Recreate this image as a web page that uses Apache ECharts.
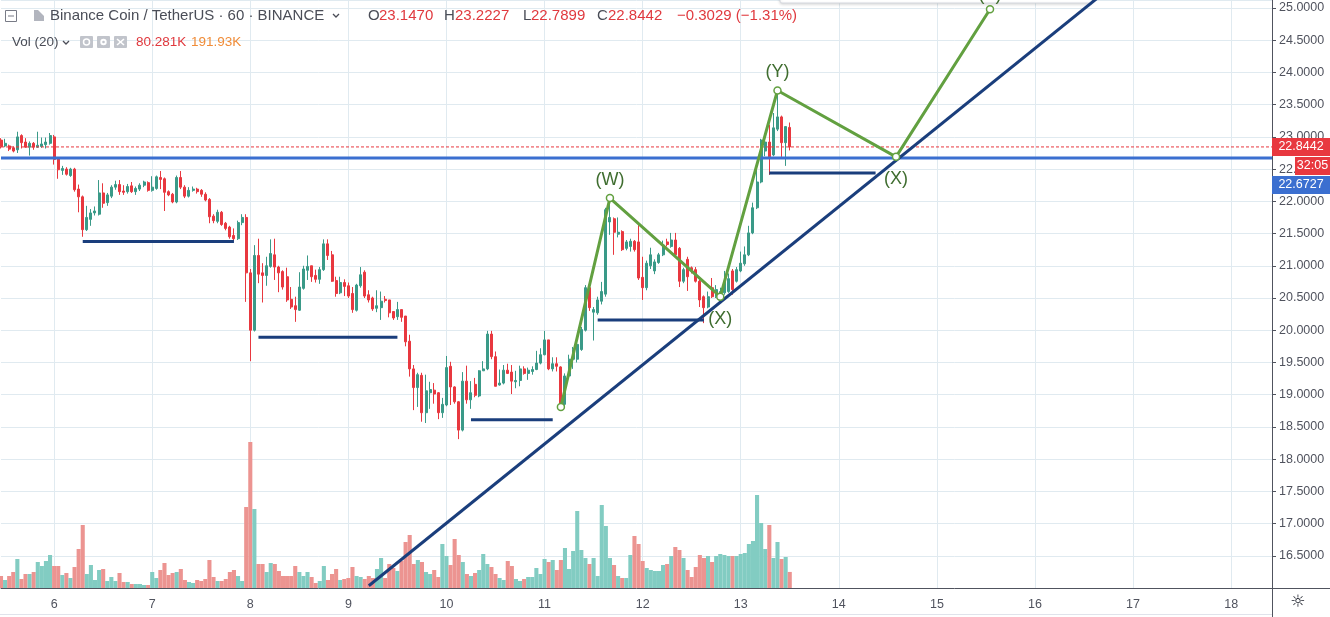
<!DOCTYPE html>
<html>
<head>
<meta charset="utf-8">
<script src="https://cdn.jsdelivr.net/npm/echarts@6/dist/echarts.min.js"></script>
<style>
html, body { margin: 0; padding: 0; background: #fff; }
#chart { width: 1330px; height: 617px; }
</style>
</head>
<body>
<div id="chart"></div>
<script>
var FONT = '"Liberation Sans", Arial, sans-serif'

// hourly slots, day 6 00:00 is slot 13
var dayLabels = ['6', '7', '8', '9', '10', '11', '12', '13', '14', '15', '16', '17', '18']
var firstMidnight = 13
var slotCount = 312

// [open, close, low, high]
var candles = [
    [22.95, 22.85, 22.82, 22.98], [22.86, 22.90, 22.84, 22.97], [22.86, 22.81, 22.78, 22.88], [22.83, 22.78, 22.76, 22.85], [22.80, 23.00, 22.75, 23.08], [23.02, 22.91, 22.82, 23.04],
    [22.92, 22.84, 22.83, 22.98], [22.84, 22.90, 22.71, 22.93], [22.90, 22.84, 22.80, 22.92], [22.84, 22.87, 22.83, 23.08], [22.85, 22.89, 22.83, 22.99], [22.88, 22.92, 22.82, 22.99],
    [22.90, 23.02, 22.88, 23.06], [23.00, 22.65, 22.57, 23.03], [22.66, 22.49, 22.35, 22.67], [22.48, 22.51, 22.41, 22.55], [22.50, 22.42, 22.40, 22.53], [22.40, 22.50, 22.38, 22.52],
    [22.50, 22.18, 22.15, 22.52], [22.19, 22.07, 21.83, 22.26], [22.07, 21.56, 21.45, 22.09], [21.56, 21.75, 21.54, 21.93], [21.72, 21.82, 21.62, 21.88], [21.82, 21.85, 21.78, 21.92],
    [21.80, 22.13, 21.78, 22.33], [22.13, 21.97, 21.90, 22.28], [21.98, 22.10, 21.93, 22.13], [22.08, 22.22, 22.05, 22.25], [22.22, 22.26, 22.18, 22.32], [22.26, 22.15, 22.10, 22.33],
    [22.16, 22.14, 22.10, 22.25], [22.15, 22.23, 22.12, 22.27], [22.24, 22.15, 22.13, 22.30], [22.15, 22.20, 22.10, 22.23], [22.19, 22.25, 22.16, 22.28], [22.25, 22.30, 22.22, 22.32],
    [22.29, 22.17, 22.15, 22.31], [22.17, 22.22, 22.15, 22.39], [22.20, 22.38, 22.18, 22.40], [22.37, 22.34, 22.19, 22.47], [22.35, 22.14, 21.85, 22.37], [22.15, 22.10, 22.08, 22.17],
    [22.11, 21.99, 21.97, 22.13], [21.99, 22.37, 21.97, 22.40], [22.37, 22.22, 22.19, 22.47], [22.22, 22.08, 22.05, 22.25], [22.08, 22.17, 22.06, 22.22], [22.17, 22.19, 22.15, 22.23],
    [22.19, 22.15, 22.12, 22.21], [22.17, 22.11, 22.07, 22.19], [22.11, 22.02, 22.00, 22.14], [22.03, 21.76, 21.66, 22.05], [21.77, 21.70, 21.66, 21.80], [21.69, 21.83, 21.66, 21.87],
    [21.83, 21.64, 21.62, 21.85], [21.66, 21.58, 21.55, 21.68], [21.60, 21.45, 21.42, 21.62], [21.47, 21.42, 21.38, 21.58], [21.42, 21.67, 21.40, 21.70], [21.67, 21.75, 21.63, 21.80],
    [21.75, 20.89, 20.44, 21.80], [20.89, 20.00, 19.52, 20.95], [20.00, 21.16, 19.98, 21.32], [21.16, 20.87, 20.73, 21.42], [20.89, 20.85, 20.43, 21.04], [20.85, 21.00, 20.69, 21.14],
    [20.99, 21.19, 20.97, 21.41], [21.17, 20.98, 20.78, 21.42], [20.98, 20.89, 20.59, 21.00], [20.91, 20.67, 20.63, 20.93], [20.83, 20.47, 20.44, 20.97], [20.48, 20.36, 20.33, 20.67],
    [20.38, 20.32, 20.13, 20.52], [20.31, 20.67, 20.30, 20.90], [20.65, 20.95, 20.63, 21.00], [20.93, 20.99, 20.78, 21.16], [21.00, 20.83, 20.75, 21.00], [20.85, 20.79, 20.74, 20.94],
    [20.79, 20.94, 20.72, 20.98], [20.94, 21.34, 20.92, 21.41], [21.34, 21.16, 21.09, 21.41], [21.17, 20.76, 20.75, 21.23], [20.77, 20.57, 20.52, 20.83], [20.58, 20.74, 20.56, 20.83],
    [20.74, 20.68, 20.53, 20.79], [20.69, 20.53, 20.50, 20.74], [20.57, 20.32, 20.27, 20.67], [20.31, 20.70, 20.29, 20.72], [20.69, 20.86, 20.66, 20.98], [20.90, 20.53, 20.50, 20.93],
    [20.55, 20.47, 20.43, 20.62], [20.50, 20.33, 20.30, 20.52], [20.34, 20.38, 20.28, 20.62], [20.35, 20.45, 20.16, 20.60], [20.48, 20.46, 20.43, 20.53], [20.47, 20.27, 20.20, 20.47],
    [20.29, 20.19, 20.16, 20.29], [20.21, 20.32, 20.16, 20.44], [20.32, 20.20, 20.13, 20.32], [20.22, 19.82, 19.75, 20.22], [19.83, 19.40, 19.28, 19.93], [19.40, 19.11, 18.76, 19.46],
    [19.11, 19.31, 18.81, 19.34], [19.30, 18.72, 18.58, 19.34], [18.72, 19.06, 18.56, 19.31], [19.03, 19.08, 18.78, 19.20], [19.07, 19.01, 18.86, 19.18], [19.03, 18.72, 18.62, 19.04],
    [18.72, 18.85, 18.64, 18.95], [18.84, 19.42, 18.82, 19.60], [19.44, 19.12, 18.84, 19.51], [19.12, 18.89, 18.86, 19.13], [18.89, 18.45, 18.31, 18.90], [18.45, 19.21, 18.43, 19.35],
    [19.21, 18.92, 18.86, 19.45], [18.92, 19.03, 18.78, 19.21], [19.16, 18.99, 18.96, 19.26], [18.98, 19.37, 18.96, 19.38], [19.37, 19.40, 19.37, 19.52], [19.40, 19.94, 19.38, 19.99],
    [19.94, 19.59, 19.55, 19.99], [19.59, 19.13, 19.13, 19.67], [19.15, 19.18, 19.14, 19.39], [19.18, 19.38, 19.16, 19.46], [19.38, 19.33, 19.32, 19.48], [19.35, 19.21, 19.01, 19.46],
    [19.20, 19.22, 19.10, 19.37], [19.22, 19.40, 19.13, 19.45], [19.40, 19.33, 19.31, 19.44], [19.33, 19.38, 19.23, 19.42], [19.36, 19.39, 19.31, 19.44], [19.39, 19.49, 19.38, 19.68],
    [19.49, 19.62, 19.47, 19.72], [19.62, 19.85, 19.61, 19.99], [19.85, 19.40, 19.38, 19.85], [19.40, 19.48, 19.36, 19.58], [19.48, 19.44, 19.36, 19.58], [19.43, 18.83, 18.81, 19.44],
    [18.85, 19.29, 18.82, 19.33], [19.29, 19.55, 19.26, 19.62], [19.55, 19.70, 19.40, 19.74], [19.55, 19.78, 19.50, 19.86], [19.70, 20.01, 19.68, 20.05], [20.00, 20.66, 19.98, 20.70],
    [20.66, 20.35, 20.30, 20.70], [20.28, 20.32, 19.84, 20.36], [20.27, 20.47, 20.24, 20.52], [20.45, 20.60, 20.40, 20.75], [20.56, 21.87, 20.52, 21.90], [21.68, 21.75, 21.48, 22.05],
    [21.73, 21.52, 21.17, 21.75], [21.49, 21.52, 21.44, 21.75], [21.53, 21.25, 21.23, 21.55], [21.27, 21.37, 21.24, 21.40], [21.30, 21.38, 21.22, 21.42], [21.38, 21.25, 21.22, 21.40],
    [21.37, 20.81, 20.78, 21.63], [20.82, 20.66, 20.47, 21.14], [20.66, 21.04, 20.62, 21.08], [21.00, 21.17, 20.95, 21.28], [20.92, 21.06, 20.87, 21.10], [21.05, 21.17, 21.03, 21.20],
    [21.17, 21.32, 21.15, 21.39], [21.37, 21.33, 21.30, 21.42], [21.30, 21.40, 21.28, 21.51], [21.40, 21.17, 21.15, 21.51], [21.27, 20.76, 20.67, 21.29], [20.76, 20.94, 20.73, 20.97],
    [21.10, 20.83, 20.61, 21.14], [20.97, 20.93, 20.88, 20.99], [20.94, 20.76, 20.74, 20.98], [20.76, 20.47, 20.36, 20.78], [20.52, 20.35, 20.11, 20.54], [20.36, 20.52, 20.34, 20.60],
    [20.66, 20.52, 20.50, 20.81], [20.52, 20.63, 20.50, 20.70], [20.57, 20.60, 20.52, 20.66], [20.58, 20.76, 20.55, 20.92], [20.60, 20.80, 20.58, 20.88], [20.92, 20.63, 20.55, 20.95],
    [20.76, 20.94, 20.74, 20.98], [20.92, 21.04, 20.90, 21.22], [21.03, 21.17, 21.00, 21.30], [21.17, 21.51, 21.15, 21.62], [21.51, 21.90, 21.49, 21.98], [21.90, 22.30, 21.88, 22.51],
    [22.30, 22.95, 22.28, 22.97], [22.78, 22.92, 22.70, 23.00], [22.92, 22.69, 22.41, 23.19], [22.72, 23.14, 22.70, 23.37], [23.12, 23.31, 23.09, 23.72], [23.31, 22.91, 22.69, 23.33],
    [22.91, 23.16, 22.55, 23.16], [23.147, 22.8442, 22.7899, 23.2227]
]

// volume, thousands
var volumes = [
    60, 40, 60, 80, 145, 45, 70, 70, 80, 130,
    110, 135, 165, 110, 110, 65, 75, 50, 105, 195,
    315, 70, 115, 40, 90, 95, 35, 55, 35, 75,
    30, 30, 20, 20, 20, 15, 15, 80, 50, 90,
    125, 65, 75, 80, 95, 40, 30, 25, 40, 35,
    45, 140, 55, 35, 35, 45, 80, 90, 60, 35,
    405, 730, 395, 120, 120, 80, 125, 120, 85, 60,
    60, 60, 110, 80, 60, 80, 55, 25, 35, 110,
    40, 70, 95, 40, 45, 50, 105, 60, 55, 45,
    60, 50, 95, 150, 50, 120, 100, 85,
    135, 230, 265, 120, 140, 130, 80, 70, 90, 55,
    220, 160, 115, 245, 165, 130, 70, 60, 75, 90,
    170, 120, 105, 70, 50, 40, 135, 110, 45, 35,
    45, 55, 55, 100, 70, 145, 130, 140, 90, 140,
    200, 95, 185, 385, 190, 150, 120, 150, 60, 415,
    310, 150, 115, 60, 50, 50, 165, 260, 220, 135,
    100, 90, 85, 85, 115, 120, 160, 205, 190, 150,
    90, 55, 105, 165, 150, 160, 130, 160, 170, 165,
    160, 160, 160, 170, 175, 220, 235, 465, 325, 195,
    315, 150, 230, 145, 155, 80.281
]

var lastPrice = 22.8442
var levelPrice = 22.6727
var countdown = '32:05'

// [from slot, to slot, price]
var supportLines = [[20, 57, 21.375], [63, 97, 19.89], [115, 135, 18.61], [146, 172, 20.16], [188, 214, 22.44]]
var trendLine = [[90, 16.035], [280, 25.754]]
var wavePoints = [[137, 18.81], [149, 22.05], [176, 20.52], [190, 23.72], [219, 22.69], [242, 24.98]]
var waveNames = ['', '(W)', '(X)', '(Y)', '(X)', '(Z)']

var UP = '#3a9a88'
var DOWN = '#e8383f'
var UP_VOL = '#82ccc2'
var DOWN_VOL = '#ec9491'
var NAVY = '#1a3e7c'
var GREEN = '#62a040'
var LABEL_GREEN = '#3f6d2f'
var GRID_LINE = '#e0eaf0'
var AXIS = '#50535e'

var categories = []
for (var i = 0; i < slotCount; i++) {
    var h = i - firstMidnight
    var d = Math.floor(h / 24)
    categories.push((6 + d) + ' ' + (((h % 24) + 24) % 24) + ':00')
}

function isMidnight(index) {
    return index >= firstMidnight && (index - firstMidnight) % 24 === 0
}

var chart = echarts.init(document.getElementById('chart'))

var series = [{
    type: 'bar',
    name: 'vol',
    xAxisIndex: 0,
    yAxisIndex: 1,
    barCategoryGap: '0%',
    z: 1,
    silent: true,
    data: volumes.map(function(v, i) {
        var c = candles[i]
        return { value: v, itemStyle: { color: c[1] >= c[0] ? UP_VOL : DOWN_VOL } }
    })
}, {
    type: 'candlestick',
    name: 'price',
    barWidth: 2.5,
    z: 2,
    silent: true,
    itemStyle: {
        color: UP,
        color0: DOWN,
        borderColor: UP,
        borderColor0: DOWN,
        borderWidth: 1
    },
    data: candles
}, {
    type: 'line',
    silent: true,
    z: 3,
    symbol: 'none',
    lineStyle: { color: DOWN, width: 1, type: [3, 2] },
    data: [[0, lastPrice], [slotCount - 1, lastPrice]]
}, {
    type: 'line',
    silent: true,
    z: 3,
    symbol: 'none',
    lineStyle: { color: '#3b6fd0', width: 3 },
    data: [[0, levelPrice], [slotCount - 1, levelPrice]]
}]

supportLines.forEach(function(s) {
    series.push({
        type: 'line',
        silent: true,
        z: 4,
        symbol: 'none',
        lineStyle: { color: NAVY, width: 3 },
        data: [[s[0], s[2]], [s[1], s[2]]]
    })
})

series.push({
    type: 'line',
    silent: true,
    z: 4,
    symbol: 'none',
    lineStyle: { color: NAVY, width: 3 },
    data: trendLine
})

series.push({
    type: 'line',
    silent: true,
    z: 5,
    symbol: 'circle',
    symbolSize: 7,
    showAllSymbol: true,
    lineStyle: { color: GREEN, width: 3 },
    itemStyle: { color: '#fff', borderColor: GREEN, borderWidth: 1.5 },
    data: wavePoints.map(function(p, i) {
        var name = waveNames[i]
        var below = name === '(X)'
        return {
            value: p,
            label: {
                show: name !== '',
                formatter: name,
                position: below ? 'bottom' : 'top',
                distance: below ? 9 : (name === '(Z)' ? 1 : 5),
                color: LABEL_GREEN,
                fontSize: 18,
                fontFamily: FONT
            }
        }
    })
})

var options = {
    animation: false,
    backgroundColor: '#fff',
    textStyle: { fontFamily: FONT },
    grid: { left: 1, right: 58, top: 0, bottom: 29 },
    xAxis: {
        type: 'category',
        data: categories,
        boundaryGap: false,
        axisLine: { lineStyle: { color: AXIS, width: 1 } },
        axisTick: { show: false },
        axisLabel: {
            interval: function(index) { return isMidnight(index) },
            formatter: function(value, index) { return dayLabels[(index - firstMidnight) / 24] },
            color: AXIS,
            fontSize: 12.5,
            margin: 10
        },
        splitLine: {
            show: true,
            interval: function(index) { return isMidnight(index) },
            lineStyle: { color: GRID_LINE, width: 1 }
        }
    },
    yAxis: [{
        type: 'value',
        position: 'right',
        min: 16,
        max: 25.124,
        interval: 0.5,
        axisLine: { show: true, lineStyle: { color: AXIS } },
        axisTick: { show: true, length: 4, lineStyle: { color: AXIS } },
        axisLabel: {
            showMinLabel: false,
            showMaxLabel: false,
            color: AXIS,
            fontSize: 12.5,
            margin: 7,
            formatter: function(v) { return v.toFixed(4) }
        },
        splitLine: { lineStyle: { color: GRID_LINE, width: 1 } }
    }, {
        type: 'value',
        position: 'left',
        min: 0,
        max: 2940,
        show: false,
        splitLine: { show: false }
    }],
    series: series
}

chart.setOption(options)

var yClose = chart.convertToPixel({ yAxisIndex: 0 }, lastPrice)
var axisX = 1272

function tag(x, yc, w, text, color) {
    return [{
        type: 'rect',
        z: 200,
        shape: { x: x, y: yc - 9, width: w, height: 18 },
        style: { fill: color }
    }, {
        type: 'text',
        z: 201,
        style: {
            x: x + w / 2, y: yc, text: text, fill: '#fff',
            font: '12.5px ' + FONT, align: 'center', verticalAlign: 'middle'
        }
    }]
}

function txt(x, y, text, color, size) {
    return {
        type: 'text',
        z: 100,
        style: {
            x: x, y: y, text: text, fill: color,
            font: (size || 14) + 'px ' + FONT, align: 'left', verticalAlign: 'middle'
        }
    }
}

var headRed = '#e0393e'
var headDark = '#4a4d57'

var elements = [
    // top floating box edge
    { type: 'rect', z: 0, shape: { x: 780, y: -20, width: 312, height: 23, r: 2 },
      style: { fill: '#fff', stroke: '#d6d9e0', lineWidth: 1, shadowBlur: 3, shadowColor: 'rgba(0,0,0,0.15)', shadowOffsetY: 1 } },
    // header line 1
    { type: 'rect', z: 100, shape: { x: 5.5, y: 10.5, width: 11, height: 11 }, style: { fill: 'none', stroke: '#787b86', lineWidth: 1 } },
    { type: 'line', z: 100, shape: { x1: 8, y1: 16, x2: 14, y2: 16 }, style: { stroke: '#787b86', lineWidth: 1 } },
    { type: 'polygon', z: 100, shape: { points: [[34, 10], [44, 10], [44, 21], [34, 21]] }, style: { fill: '#b2b5be' } },
    { type: 'polygon', z: 101, shape: { points: [[38, 10], [44, 10], [44, 16]] }, style: { fill: '#fff' } },
    txt(50, 16, 'Binance Coin / TetherUS · 60 · BINANCE', headDark, 15),
    { type: 'polyline', z: 100, shape: { points: [[333, 14], [336, 17], [339, 14]] }, style: { stroke: headDark, lineWidth: 1.3, fill: 'none' } },
    txt(368, 16, 'O', headDark, 15), txt(379, 16, '23.1470', headRed, 15),
    txt(444, 16, 'H', headDark, 15), txt(455, 16, '23.2227', headRed, 15),
    txt(523, 16, 'L', headDark, 15), txt(531, 16, '22.7899', headRed, 15),
    txt(597, 16, 'C', headDark, 15), txt(608, 16, '22.8442', headRed, 15),
    txt(677, 16, '\u22120.3029 (\u22121.31%)', headRed, 15),
    // header line 2
    txt(12, 42, 'Vol (20)', headDark, 13.5),
    { type: 'polyline', z: 100, shape: { points: [[63, 41], [66, 44], [69, 41]] }, style: { stroke: headDark, lineWidth: 1.3, fill: 'none' } },
    { type: 'rect', z: 100, shape: { x: 80, y: 36, width: 13, height: 12, r: 1 }, style: { fill: '#c1c4cb' } },
    { type: 'circle', z: 101, shape: { cx: 86.5, cy: 42, r: 3 }, style: { fill: 'none', stroke: '#fff', lineWidth: 1.5 } },
    { type: 'rect', z: 100, shape: { x: 97, y: 36, width: 13, height: 12, r: 1 }, style: { fill: '#c1c4cb' } },
    { type: 'circle', z: 101, shape: { cx: 103.5, cy: 42, r: 3.2 }, style: { fill: '#fff' } },
    { type: 'circle', z: 102, shape: { cx: 103.5, cy: 42, r: 1.3 }, style: { fill: '#c1c4cb' } },
    { type: 'rect', z: 100, shape: { x: 114, y: 36, width: 13, height: 12, r: 1 }, style: { fill: '#c1c4cb' } },
    { type: 'line', z: 101, shape: { x1: 117, y1: 39, x2: 124, y2: 45 }, style: { stroke: '#fff', lineWidth: 1.6 } },
    { type: 'line', z: 101, shape: { x1: 124, y1: 39, x2: 117, y2: 45 }, style: { stroke: '#fff', lineWidth: 1.6 } },
    txt(136, 42, '80.281K', headRed, 13.5),
    txt(191, 42, '191.93K', '#f08c38', 13.5),
    // axis area frame
    { type: 'line', z: 100, shape: { x1: axisX + 0.5, y1: 588, x2: axisX + 0.5, y2: 617 }, style: { stroke: AXIS, lineWidth: 1 } },
    { type: 'line', z: 100, shape: { x1: axisX, y1: 588.5, x2: 1330, y2: 588.5 }, style: { stroke: AXIS, lineWidth: 1 } },
    { type: 'line', z: 100, shape: { x1: 0, y1: 614.5, x2: axisX, y2: 614.5 }, style: { stroke: '#e0e3eb', lineWidth: 1 } },
    { type: 'text', z: 100, style: { x: 1298, y: 603, text: '\u263C', fill: '#131722', font: '17px "DejaVu Sans"', align: 'center', verticalAlign: 'middle' } }
]

// price tags on the axis
elements = elements
    .concat(tag(axisX, yClose, 58, lastPrice.toFixed(4), DOWN))
    .concat(tag(1295, yClose + 19, 35, countdown, DOWN))
    .concat(tag(axisX, yClose + 38, 58, levelPrice.toFixed(4), '#3b6fd0'))

chart.setOption({ graphic: elements })
</script>
</body>
</html>
